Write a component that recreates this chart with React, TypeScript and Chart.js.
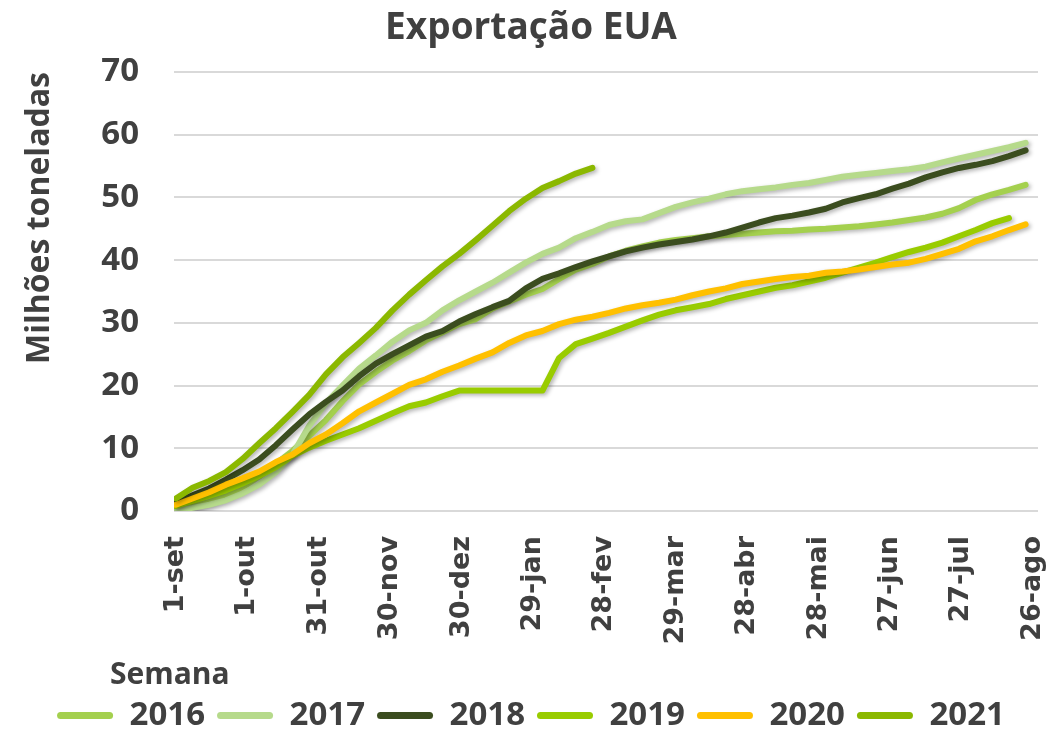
import React, { useEffect, useRef } from 'react';
import { Chart, registerables } from 'chart.js';

Chart.register(...registerables);

const TITLE = 'Exportação EUA';
const Y_TITLE = 'Milhões toneladas';
const X_TITLE = 'Semana';

const xTickLabels = ['1-set', '1-out', '31-out', '30-nov', '30-dez', '29-jan', '28-fev', '29-mar', '28-abr', '28-mai', '27-jun', '27-jul', '26-ago'];
const yearLabels = ['2016', '2017', '2018', '2019', '2020', '2021'];
const colors = ['#A4D04E', '#B6DA8B', '#3B4D1F', '#99CC00', '#FFC000', '#8BB800'];

// weekly cumulative exports (million t), week 0 = 1-set
const s2016 = [0.3, 0.8, 1.5, 2.5, 3.8, 5.5, 7.5, 9.6, 12.0, 14.5, 17.5, 20.2, 22.2, 24.0, 25.5, 27.2, 28.5, 29.8, 30.6, 32.3, 33.4, 34.5, 35.4, 37.0, 38.5, 39.4, 40.6, 41.5, 42.2, 42.8, 43.2, 43.5, 43.8, 44.0, 44.2, 44.4, 44.6, 44.7, 44.9, 45.0, 45.2, 45.4, 45.7, 46.0, 46.4, 46.8, 47.4, 48.3, 49.6, 50.5, 51.2, 52.0];
const s2017 = [0.1, 0.5, 1.0, 1.7, 2.8, 4.2, 6.2, 9.0, 13.6, 17.2, 20.0, 22.7, 24.8, 27.0, 28.8, 30.0, 32.0, 33.6, 35.0, 36.4, 38.0, 39.6, 41.0, 42.0, 43.5, 44.5, 45.6, 46.2, 46.5, 47.5, 48.5, 49.2, 49.8, 50.5, 51.0, 51.3, 51.6, 52.0, 52.3, 52.8, 53.3, 53.6, 53.9, 54.2, 54.5, 54.9, 55.6, 56.2, 56.8, 57.4, 58.0, 58.7];
const s2018 = [1.4, 2.5, 3.6, 5.0, 6.5, 8.2, 10.5, 13.0, 15.4, 17.4, 19.2, 21.5, 23.5, 25.0, 26.4, 27.8, 28.7, 30.2, 31.4, 32.5, 33.5, 35.5, 37.0, 37.9, 38.9, 39.8, 40.6, 41.4, 42.0, 42.5, 42.9, 43.3, 43.8, 44.4, 45.2, 46.0, 46.7, 47.1, 47.6, 48.2, 49.2, 49.9, 50.5, 51.4, 52.2, 53.2, 54.0, 54.7, 55.2, 55.8, 56.6, 57.5];
const s2019 = [0.8, 1.6, 2.4, 3.3, 4.4, 5.6, 7.0, 8.8, 10.1, 11.2, 12.2, 13.2, 14.4, 15.6, 16.7, 17.3, 18.3, 19.2, 19.2, 19.2, 19.2, 19.2, 19.2, 24.4, 26.6, 27.5, 28.4, 29.4, 30.4, 31.3, 32.0, 32.5, 33.0, 33.8, 34.4, 35.0, 35.6, 36.0, 36.6, 37.2, 38.0, 38.8, 39.6, 40.5, 41.3, 42.0, 42.8, 43.8, 44.8, 45.9, 46.7];
const s2020 = [1.0, 2.0, 3.0, 4.2, 5.2, 6.3, 7.8, 9.0, 10.8, 12.2, 14.0, 15.9, 17.3, 18.7, 20.1, 21.0, 22.2, 23.2, 24.3, 25.3, 26.8, 28.0, 28.7, 29.8, 30.5, 31.0, 31.6, 32.3, 32.8, 33.2, 33.7, 34.4, 35.0, 35.5, 36.2, 36.6, 37.0, 37.3, 37.5, 38.0, 38.2, 38.5, 38.9, 39.3, 39.6, 40.2, 41.0, 41.8, 43.0, 43.8, 44.8, 45.7];
const s2021 = [2.0, 3.7, 4.8, 6.2, 8.3, 10.8, 13.2, 15.8, 18.5, 21.8, 24.5, 26.8, 29.2, 32.0, 34.5, 36.8, 39.0, 41.0, 43.2, 45.5, 47.8, 49.8, 51.5, 52.6, 53.8, 54.7];

const DAYS_PER_WEEK = 7;
const TICK_STEP_DAYS = 30;
const TEXT_COLOR = '#404040';
const PAD_BOTTOM = -12;

const shadowPlugin = {
  id: 'lineShadow',
  beforeDatasetDraw(chart: any) {
    const c = chart.ctx;
    c.save();
    c.shadowColor = 'rgba(0,0,0,0.30)';
    c.shadowBlur = 4;
    c.shadowOffsetX = 2;
    c.shadowOffsetY = 2;
  },
  afterDatasetDraw(chart: any) {
    chart.ctx.restore();
  },
};

const textPlugin = {
  id: 'extraTexts',
  afterDraw(chart: any) {
    const c = chart.ctx;
    c.save();
    c.fillStyle = TEXT_COLOR;
    c.font = 'bold 32px "Open Sans"';
    c.textAlign = 'center';
    c.textBaseline = 'middle';
    c.translate(40, 218);
    c.rotate(-Math.PI / 2);
    c.fillText(Y_TITLE, 0, 0);
    c.restore();
    c.save();
    c.fillStyle = TEXT_COLOR;
    c.font = 'bold 30px "Open Sans"';
    c.textAlign = 'left';
    c.textBaseline = 'middle';
    c.fillText(X_TITLE, 110, 675);
    c.restore();
  },
};

export default function App() {
  const ref = useRef<HTMLCanvasElement>(null);
  useEffect(() => {
    const series = [s2016, s2017, s2018, s2019, s2020, s2021];
    const datasets = series.map((s, i) => ({
      label: yearLabels[i],
      data: s.map((v, w) => ({ x: w * DAYS_PER_WEEK, y: v })),
      borderColor: colors[i],
      backgroundColor: colors[i],
      borderWidth: 6,
      pointRadius: 0,
      pointHoverRadius: 0,
      tension: 0,
      fill: false,
      borderCapStyle: 'round',
      borderJoinStyle: 'round',
      order: series.length - i,
    }));
    const chart = new Chart(ref.current as HTMLCanvasElement, {
      type: 'line',
      data: { datasets } as any,
      options: {
        responsive: true,
        maintainAspectRatio: false,
        animation: false,
        layout: { padding: { left: 24, right: 13, top: 0, bottom: PAD_BOTTOM } },
        plugins: {
          title: {
            display: true,
            text: TITLE,
            color: TEXT_COLOR,
            font: { family: '"Open Sans"', size: 37, weight: 'bold' },
            padding: { top: 6, bottom: 21.6 },
          },
          legend: {
            position: 'bottom',
            labels: {
              boxWidth: 56,
              boxHeight: 7,
              padding: 12,
              color: TEXT_COLOR,
              font: { family: '"Open Sans"', size: 33, weight: 'bold' },
              useBorderRadius: true,
              borderRadius: 3.5,
              sort: (a: any, b: any) => a.datasetIndex - b.datasetIndex,
              generateLabels: (ch: any) =>
                (Chart.defaults.plugins.legend.labels as any).generateLabels(ch).map((it: any) => ({
                  ...it,
                  fillStyle: it.strokeStyle,
                  lineWidth: 0,
                })),
            },
          },
          tooltip: { enabled: false },
        },
        scales: {
          x: {
            type: 'linear',
            min: -0.8,
            max: 362.2,
            afterBuildTicks: (s: any) => {
              s.ticks = xTickLabels.map((_, i) => ({ value: i * TICK_STEP_DAYS }));
            },
            afterFit: (s: any) => {
              const lg = s.chart.legend;
              s.height = s.chart.height - 511 - (lg ? lg.height : 0) - PAD_BOTTOM;
              s.paddingLeft = 0;
              s.paddingRight = 0;
            },
            ticks: {
              autoSkip: false,
              maxRotation: 90,
              minRotation: 90,
              padding: 17,
              color: TEXT_COLOR,
              font: { family: '"DejaVu Sans"', size: 27, weight: 'bold' },
              callback: (v: any) => xTickLabels[Math.round(Number(v) / TICK_STEP_DAYS)],
            },
            grid: { display: false },
            border: { display: false },
          },
          y: {
            min: 0,
            max: 70,
            afterFit: (s: any) => {
              s.width = 150;
              s.paddingTop = 0;
              s.paddingBottom = 0;
            },
            ticks: {
              stepSize: 10,
              padding: 35,
              color: TEXT_COLOR,
              font: { family: '"Open Sans"', size: 33, weight: 'bold' },
            },
            grid: { color: '#D9D9D9', lineWidth: 2, drawTicks: false },
            border: { display: false },
          },
        },
      } as any,
      plugins: [shadowPlugin, textPlugin],
    });
    return () => chart.destroy();
  }, []);
  return (
    <div style={{ position: 'fixed', left: 0, top: 0, width: 1051, height: 730, background: '#ffffff' }}>
      <canvas ref={ref} />
    </div>
  );
}
